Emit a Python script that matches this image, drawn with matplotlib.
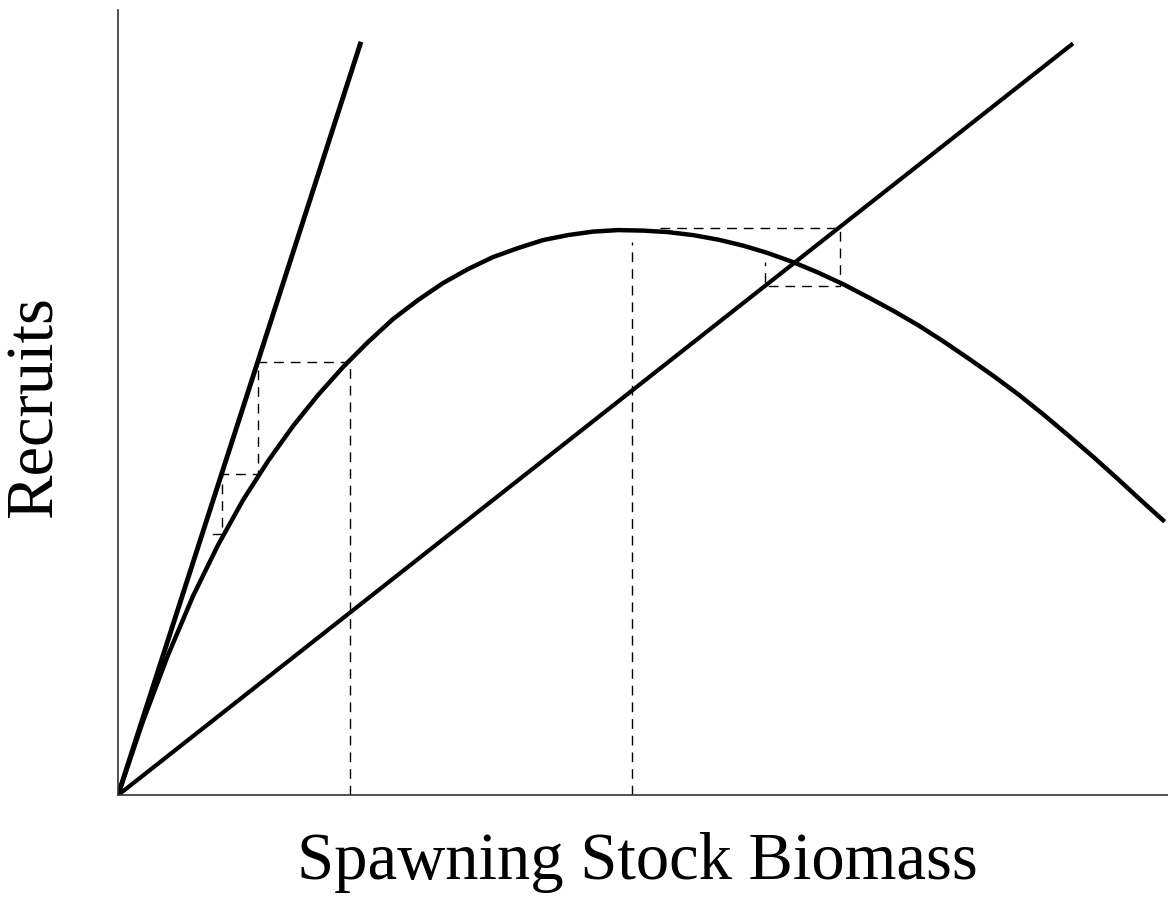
import matplotlib
matplotlib.use("Agg")
import matplotlib.pyplot as plt

stock = [0.00, 0.25, 0.50, 0.75, 1.00, 1.25, 1.50, 1.75, 2.00, 2.25,
         2.50, 2.75, 3.00, 3.25, 3.50, 3.75, 4.00, 4.25, 4.50, 4.75,
         5.00, 5.25, 5.50, 5.75, 6.00, 6.25, 6.50, 6.75, 7.00, 7.25,
         7.50, 7.75, 8.00, 8.25, 8.50, 8.75, 9.00, 9.25, 9.50, 9.75,
         10.00, 10.25, 10.45]
recruits = [0.00, 0.74, 1.40, 1.99, 2.50, 2.95, 3.34, 3.69, 4.00, 4.28,
            4.53, 4.76, 4.95, 5.12, 5.26, 5.38, 5.47, 5.55, 5.60, 5.635,
            5.65, 5.645, 5.63, 5.60, 5.555, 5.495, 5.42, 5.33, 5.226, 5.11,
            4.98, 4.845, 4.70, 4.54, 4.37, 4.195, 4.01, 3.81, 3.60, 3.385,
            3.16, 2.93, 2.75]

# replacement lines through the origin (slope = recruits per unit stock)
steep_slope = 3.10
steep_end = 2.43
shallow_slope = 0.787
shallow_end = 9.55

# cobweb steps, low-F side (steep line) and high-F side (shallow line)
cob_low_x = [2.32, 2.32, 1.40, 1.40, 1.04, 1.04, 0.94]
cob_low_y = [0.00, 4.33, 4.33, 3.21, 3.21, 2.61, 2.61]
cob_high_x = [5.14, 5.14, 5.42, 7.22, 7.22, 6.47, 6.47]
cob_high_y = [0.00, 5.53, 5.67, 5.67, 5.09, 5.09, 5.33]


def main():
    fig = plt.figure(figsize=(11.68, 9.13), dpi=100)
    ax = fig.add_axes([0.101, 0.129, 0.899, 0.860])

    dash = dict(color="black", lw=1.0, dashes=(7, 5))
    ax.plot(cob_low_x[:2], cob_low_y[:2], **dash)
    ax.plot(cob_low_x[1:], cob_low_y[1:], **dash)
    ax.plot(cob_high_x[:2], cob_high_y[:2], **dash)
    ax.plot(cob_high_x[2:], cob_high_y[2:], **dash)

    ax.plot([0, steep_end], [0, steep_slope * steep_end], color="black",
            lw=3.5, solid_capstyle="butt")
    ax.plot([0, shallow_end], [0, shallow_slope * shallow_end], color="black",
            lw=3.0, solid_capstyle="butt")
    ax.plot(stock, recruits, color="black", lw=3.2, solid_joinstyle="round")

    ax.set_xlim(0, 10.5)
    ax.set_ylim(0, 7.85)
    for side in ("top", "right"):
        ax.spines[side].set_visible(False)
    for side in ("left", "bottom"):
        ax.spines[side].set_color("#333333")
        ax.spines[side].set_linewidth(1.2)
    ax.set_xticks([])
    ax.set_yticks([])

    fig.text(0.546, 0.055, "Spawning Stock Biomass", ha="center",
             va="center", family="Liberation Serif", fontsize=48)
    fig.text(0.030, 0.554, "Recruits", ha="center", va="center",
             rotation=90, family="Liberation Serif", fontsize=48)

    fig.savefig("out.png", dpi=100, facecolor="white")


if __name__ == "__main__":
    main()
